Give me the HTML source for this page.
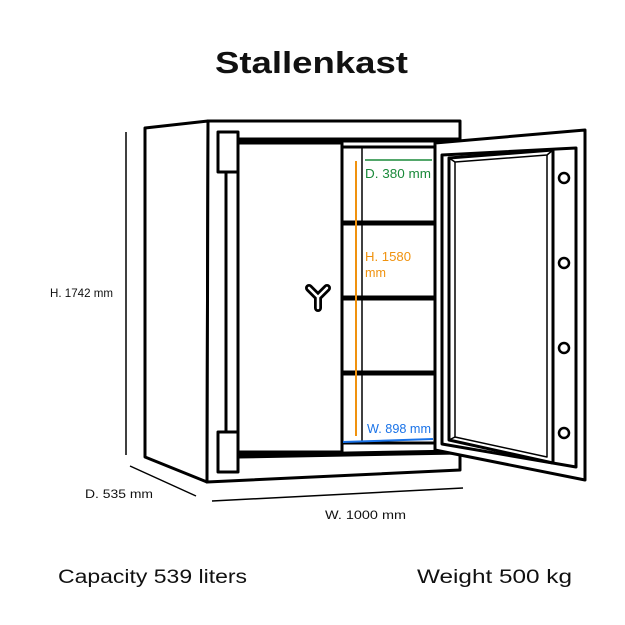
<!DOCTYPE html>
<html><head><meta charset="utf-8"><style>
html,body{margin:0;padding:0;background:#fff;}
svg{display:block;}
text{font-family:"Liberation Sans",sans-serif;}
</style></head><body>
<svg width="625" height="625" viewBox="0 0 625 625" xmlns="http://www.w3.org/2000/svg">
<rect width="625" height="625" fill="#fff"/>
<text x="215" y="73" font-size="31" font-weight="bold" textLength="193" lengthAdjust="spacingAndGlyphs" fill="#111">Stallenkast</text>
<g fill="none" stroke="#000" stroke-width="3" stroke-linejoin="round">
<polygon points="145,128 208,121 207,482 145,457" fill="#fff"/>
<polygon points="208,121 460,121 460,470 207,482" fill="#fff"/>
<rect x="218" y="132" width="20" height="40" fill="#fff"/>
<rect x="218" y="432" width="20" height="40" fill="#fff"/>
<line x1="226" y1="172" x2="226" y2="432"/>
<rect x="238" y="143" width="104" height="309"/>
<rect x="342" y="147" width="93" height="296"/>
<line x1="362" y1="147" x2="362" y2="443" stroke-width="1.5"/>
</g>
<g stroke="#000" stroke-width="5">
<line x1="238" y1="140" x2="460" y2="140"/>
<line x1="342" y1="223" x2="435" y2="223"/>
<line x1="342" y1="298" x2="435" y2="298"/>
<line x1="342" y1="373" x2="435" y2="373"/>
<line x1="238" y1="456" x2="460" y2="452"/>
</g>
<line x1="356" y1="161" x2="356" y2="436" stroke="#f0920e" stroke-width="2"/>
<line x1="365" y1="160" x2="432" y2="160" stroke="#1a8a3a" stroke-width="1.5"/>
<line x1="343" y1="442" x2="433" y2="439" stroke="#1a73e8" stroke-width="2"/>
<text x="365" y="178" font-size="12.5" textLength="66" lengthAdjust="spacingAndGlyphs" fill="#1a8a3a">D. 380 mm</text>
<text x="365" y="261" font-size="12.5" textLength="46" lengthAdjust="spacingAndGlyphs" fill="#f0920e">H. 1580</text>
<text x="365" y="277" font-size="12.5" textLength="21" lengthAdjust="spacingAndGlyphs" fill="#f0920e">mm</text>
<text x="367" y="433" font-size="12.5" textLength="64" lengthAdjust="spacingAndGlyphs" fill="#1a73e8">W. 898 mm</text>
<path d="M309,288 L318,297 L327,288 M318,297 L318,308" stroke="#000" stroke-width="8" stroke-linecap="round" stroke-linejoin="round" fill="none"/>
<path d="M309,288 L318,297 L327,288 M318,297 L318,308" stroke="#fff" stroke-width="2.5" stroke-linecap="round" fill="none"/>
<g fill="#fff" stroke="#000" stroke-width="3" stroke-linejoin="round">
<polygon points="435,143 585,130 585,480 435,450"/>
<polygon points="442,155 576,148 576,467 442,444"/>
<polygon points="449,158 553,150 553,463 449,440"/>
<polyline points="449,158 455,162 547,155 553,150" fill="none" stroke-width="1.5"/>
<polyline points="455,162 455,437 547,457 547,155" fill="none" stroke-width="1.5"/>
<polyline points="449,440 455,437 M547,457 553,463" fill="none" stroke-width="1.5"/>
<circle cx="564" cy="178" r="5" stroke-width="2.5"/>
<circle cx="564" cy="263" r="5" stroke-width="2.5"/>
<circle cx="564" cy="348" r="5" stroke-width="2.5"/>
<circle cx="564" cy="433" r="5" stroke-width="2.5"/>
</g>
<g stroke="#000" stroke-width="1.5">
<line x1="126" y1="132" x2="126" y2="455"/>
<line x1="130" y1="466" x2="196" y2="496"/>
<line x1="212" y1="501" x2="463" y2="488"/>
</g>
<text x="50" y="297" font-size="12" textLength="63" lengthAdjust="spacingAndGlyphs" fill="#111">H. 1742 mm</text>
<text x="85" y="498" font-size="12" textLength="68" lengthAdjust="spacingAndGlyphs" fill="#111">D. 535 mm</text>
<text x="325" y="519" font-size="12" textLength="81" lengthAdjust="spacingAndGlyphs" fill="#111">W. 1000 mm</text>
<text x="58" y="583" font-size="19" textLength="189" lengthAdjust="spacingAndGlyphs" fill="#111">Capacity 539 liters</text>
<text x="417" y="583" font-size="19" textLength="155" lengthAdjust="spacingAndGlyphs" fill="#111">Weight 500 kg</text>
</svg>
</body></html>
